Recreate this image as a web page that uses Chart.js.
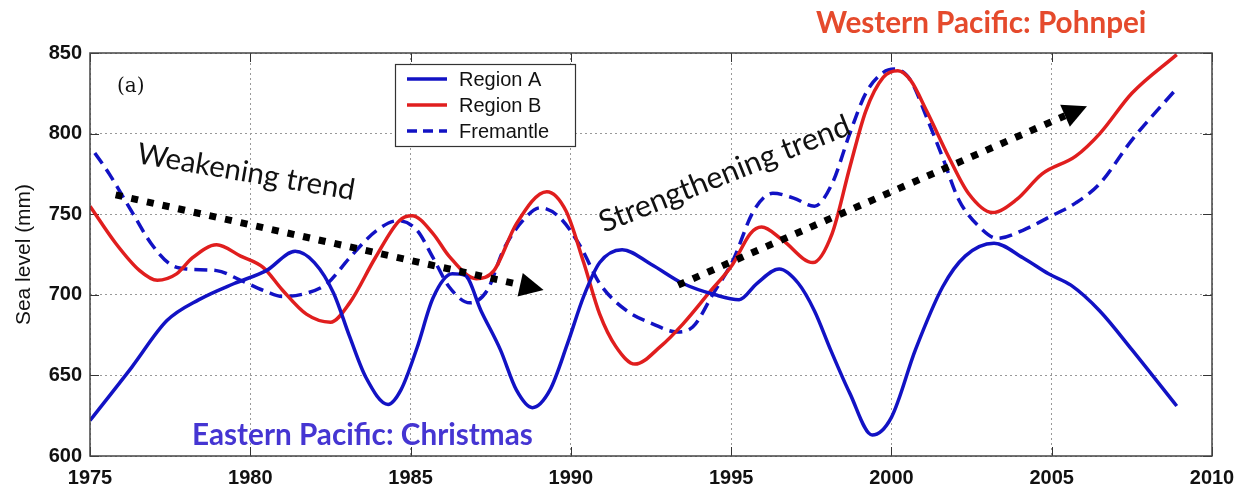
<!DOCTYPE html>
<html lang="en">
<head>
    <meta charset="UTF-8">
    <title>Sea level: Region A, Region B and Fremantle</title>
    <script src="https://cdn.jsdelivr.net/npm/chart.js"></script>
    <style>
        html, body { margin: 0; padding: 0; background: #fff; }
        #wrap { width: 1236px; height: 486px; }
    </style>
</head>
<body>

<div id="wrap">
    <canvas id="seaChart" width="1236" height="486"></canvas>
</div>

<script>
    // Region A (Eastern Pacific: Christmas)
    const yearsA = [1975.0, 1976.3, 1977.4, 1978.4, 1979.5, 1980.5, 1981.4, 1982.0, 1982.6, 1983.1, 1983.6, 1984.3,
        1984.7, 1985.2, 1985.7, 1986.3, 1986.7, 1987.2, 1987.8, 1988.3, 1988.8, 1989.35, 1989.9, 1990.4,
        1990.9, 1991.6, 1992.5, 1993.5, 1994.5, 1995.25, 1995.8, 1996.5, 1997.1, 1997.6, 1998.1, 1998.7, 1999.4,
        2000.0, 2000.75, 2001.6, 2002.3, 2003.2, 2004.1, 2004.9, 2005.6, 2006.5, 2007.5, 2008.9];
    const levelsA = [622, 655, 684, 697, 707, 715, 727, 720, 701, 674, 649, 632,
        641, 667, 698, 713, 712, 690, 666, 641, 630, 641, 670, 699,
        720, 728, 719, 707, 700, 697, 707, 716, 707, 690, 666, 639, 613,
        624, 666, 705, 724, 732, 723, 713, 706, 690, 666, 631];

    // Region B (Western Pacific: Pohnpei)
    const yearsB = [1975.0, 1975.8, 1976.55, 1977.1, 1977.7, 1978.2, 1978.95, 1979.7, 1980.4, 1981.0, 1981.75, 1982.5,
        1983.1, 1983.9, 1984.65, 1985.05, 1985.7, 1986.2, 1987.05, 1987.6, 1988.3, 1989.25, 1989.85, 1990.4,
        1990.9, 1991.4, 1992.0, 1992.8, 1993.5, 1994.3, 1995.05, 1995.6, 1995.95, 1996.6, 1997.55, 1998.15,
        1998.7, 1999.2, 1999.75, 2000.2, 2000.6, 2001.1, 2001.8, 2002.4, 2003.15, 2003.9, 2004.7, 2005.75,
        2006.5, 2007.5, 2008.9];
    const levelsB = [755, 732, 715, 709, 713, 723, 731, 724, 717, 703, 688, 683,
        695, 723, 746, 749, 738, 724, 710, 715, 744, 764, 752, 720,
        688, 668, 657, 668, 682, 701, 719, 738, 742, 734, 720, 738,
        779, 814, 835, 839, 833, 814, 785, 763, 751, 759, 775, 786,
        800, 825, 849];

    // Fremantle
    const yearsF = [1975.15, 1975.6, 1976.35, 1976.9, 1977.5, 1978.0, 1978.95, 1979.7, 1980.5, 1981.0, 1981.75, 1982.4,
        1983.1, 1983.95, 1984.6, 1985.2, 1985.7, 1986.2, 1986.85, 1987.4, 1987.9, 1988.5, 1989.05, 1989.65,
        1990.3, 1990.9, 1991.75, 1992.55, 1993.3, 1993.8, 1994.45, 1995.05, 1995.7, 1996.3, 1996.95, 1997.6,
        1998.15, 1998.7, 1999.2, 1999.75, 2000.1, 2000.6, 2001.1, 2001.6, 2002.1, 2002.75, 2003.3, 2004.1,
        2004.9, 2005.75, 2006.5, 2007.5, 2008.9];
    const levelsF = [788, 775, 750, 732, 719, 716, 715, 709, 702, 699, 701, 707,
        723, 740, 746, 740, 723, 705, 695, 703, 728, 746, 754, 748,
        730, 707, 690, 682, 677, 680, 701, 721, 752, 763, 760, 755,
        769, 800, 825, 838, 840, 833, 810, 785, 759, 742, 735, 740,
        748, 757, 769, 796, 828];

    // trend arrows: [start, end] in years and sea level
    const weakYears = [1975.8, 1989.15];
    const weakLevels = [762, 703];
    const strongYears = [1993.35, 2006.1];
    const strongLevels = [706, 817];

    const xTicks = [1975, 1980, 1985, 1990, 1995, 2000, 2005, 2010];
    const yTicks = [600, 650, 700, 750, 800, 850];

    const BLUE = '#1212c4';
    const RED = '#e01e1e';

    function toPoints(xs, ys) {
        return xs.map((x, i) => ({ x: x, y: ys[i] }));
    }

    function drawArrow(ctx, x0, y0, x1, y1) {
        const ang = Math.atan2(y1 - y0, x1 - x0);
        const headLen = 24, headW = 12;
        const bx = x1 - headLen * Math.cos(ang), by = y1 - headLen * Math.sin(ang);
        ctx.save();
        ctx.strokeStyle = '#000';
        ctx.lineWidth = 7;
        ctx.lineCap = 'butt';
        ctx.setLineDash([7, 9]);
        ctx.beginPath();
        ctx.moveTo(x0, y0);
        ctx.lineTo(bx, by);
        ctx.stroke();
        ctx.setLineDash([]);
        ctx.fillStyle = '#000';
        ctx.beginPath();
        ctx.moveTo(x1, y1);
        ctx.lineTo(bx - headW * Math.sin(ang), by + headW * Math.cos(ang));
        ctx.lineTo(bx + headW * Math.sin(ang), by - headW * Math.cos(ang));
        ctx.closePath();
        ctx.fill();
        ctx.restore();
    }

    // text stretched to a given width along a rotated baseline
    function fittedText(ctx, text, x, y, width, angleDeg, weight, family, color) {
        ctx.save();
        ctx.font = weight + ' 40px ' + family;
        const size = 40 * width / ctx.measureText(text).width;
        ctx.font = weight + ' ' + size.toFixed(1) + 'px ' + family;
        ctx.fillStyle = color;
        ctx.textBaseline = 'alphabetic';
        ctx.textAlign = 'left';
        ctx.translate(x, y);
        ctx.rotate(angleDeg * Math.PI / 180);
        ctx.fillText(text, 0, 0);
        ctx.restore();
    }

    const decorations = {
        id: 'decorations',
        beforeDatasetsDraw(chart) {
            const { ctx, chartArea: a, scales } = chart;
            ctx.save();
            // inner tick marks on all four sides
            ctx.strokeStyle = '#333';
            ctx.lineWidth = 1;
            xTicks.forEach(t => {
                const px = Math.round(scales.x.getPixelForValue(t)) + 0.5;
                ctx.beginPath();
                ctx.moveTo(px, a.bottom); ctx.lineTo(px, a.bottom - 9);
                ctx.moveTo(px, a.top); ctx.lineTo(px, a.top + 9);
                ctx.stroke();
            });
            yTicks.forEach(t => {
                const py = Math.round(scales.y.getPixelForValue(t)) + 0.5;
                ctx.beginPath();
                ctx.moveTo(a.left, py); ctx.lineTo(a.left + 9, py);
                ctx.moveTo(a.right, py); ctx.lineTo(a.right - 9, py);
                ctx.stroke();
            });
            ctx.restore();
        },
        afterDatasetsDraw(chart) {
            const { ctx, chartArea: a, scales } = chart;
            const X = v => scales.x.getPixelForValue(v);
            const Y = v => scales.y.getPixelForValue(v);

            ctx.save();
            ctx.strokeStyle = '#444';
            ctx.lineWidth = 1.5;
            ctx.strokeRect(a.left, a.top, a.right - a.left, a.bottom - a.top);
            ctx.restore();

            drawArrow(ctx, X(weakYears[0]), Y(weakLevels[0]), X(weakYears[1]), Y(weakLevels[1]));
            drawArrow(ctx, X(strongYears[0]), Y(strongLevels[0]), X(strongYears[1]), Y(strongLevels[1]));

            fittedText(ctx, 'Weakening trend', 136, 163, 220, 9.7, 'normal', 'Lato', '#111');
            fittedText(ctx, 'Strengthening trend', 604, 233, 268, -21.8, 'normal', 'Lato', '#111');
            fittedText(ctx, 'Eastern Pacific: Christmas', 192, 445, 341, 0, 'bold', 'Lato', '#4535d2');
            fittedText(ctx, 'Western Pacific: Pohnpei', 816, 33, 330, 0, 'bold', 'Lato', '#e54a2c');

            ctx.save();
            ctx.font = '20px "DejaVu Serif"';
            ctx.fillStyle = '#111';
            ctx.textBaseline = 'middle';
            ctx.fillText('(a)', 117, 87);

            // legend box
            ctx.fillStyle = '#fff';
            ctx.fillRect(395, 64, 180, 82);
            ctx.strokeStyle = '#333';
            ctx.lineWidth = 1.2;
            ctx.strokeRect(395.5, 64.5, 180, 82);
            const entries = [
                ['Region A', BLUE, []],
                ['Region B', RED, []],
                ['Fremantle', BLUE, [10, 6]]
            ];
            ctx.font = '20px "Liberation Sans"';
            entries.forEach((e, i) => {
                const ly = 79 + i * 26;
                ctx.strokeStyle = e[1];
                ctx.lineWidth = 3.5;
                ctx.setLineDash(e[2]);
                ctx.beginPath();
                ctx.moveTo(407, ly);
                ctx.lineTo(447, ly);
                ctx.stroke();
                ctx.setLineDash([]);
                ctx.fillStyle = '#111';
                ctx.fillText(e[0], 459, ly + 1);
            });
            ctx.restore();
        }
    };

    new Chart(document.getElementById('seaChart'), {
        type: 'line',
        data: {
            datasets: [
                {
                    label: 'Region A',
                    data: toPoints(yearsA, levelsA),
                    borderColor: BLUE,
                    borderWidth: 3.5,
                    pointRadius: 0,
                    cubicInterpolationMode: 'monotone'
                },
                {
                    label: 'Region B',
                    data: toPoints(yearsB, levelsB),
                    borderColor: RED,
                    borderWidth: 3.5,
                    pointRadius: 0,
                    cubicInterpolationMode: 'monotone'
                },
                {
                    label: 'Fremantle',
                    data: toPoints(yearsF, levelsF),
                    borderColor: BLUE,
                    borderWidth: 3.5,
                    borderDash: [13, 7],
                    pointRadius: 0,
                    cubicInterpolationMode: 'monotone'
                }
            ]
        },
        plugins: [decorations],
        options: {
            responsive: false,
            animation: false,
            events: [],
            layout: { padding: { top: 53, right: 24, left: 0, bottom: 0 } },
            plugins: {
                legend: { display: false },
                tooltip: { enabled: false }
            },
            scales: {
                x: {
                    type: 'linear',
                    min: 1975,
                    max: 2010,
                    afterBuildTicks: s => { s.ticks = xTicks.map(v => ({ value: v })); },
                    afterFit: s => {
                        s.height = 30;
                        // let the 2010 label hang into the right margin
                        s.paddingLeft = 0;
                        s.paddingRight = 0;
                    },
                    grid: { color: '#999', lineWidth: 1, drawTicks: false },
                    border: { display: false, dash: [2, 3] },
                    ticks: {
                        padding: 10,
                        maxRotation: 0,
                        color: '#111',
                        font: { family: 'Liberation Sans', size: 20, weight: 'bold' },
                        callback: v => String(v)
                    }
                },
                y: {
                    min: 600,
                    max: 850,
                    afterBuildTicks: s => { s.ticks = yTicks.map(v => ({ value: v })); },
                    afterFit: s => { s.width = 90; },
                    grid: { color: '#999', lineWidth: 1, drawTicks: false },
                    border: { display: false, dash: [2, 3] },
                    ticks: {
                        padding: 8,
                        color: '#111',
                        font: { family: 'Liberation Sans', size: 20, weight: 'bold' }
                    },
                    title: {
                        display: true,
                        text: 'Sea level (mm)',
                        color: '#111',
                        padding: { top: 12, bottom: 0 },
                        font: { family: 'Liberation Sans', size: 21 }
                    }
                }
            }
        }
    });
</script>

</body>
</html>
